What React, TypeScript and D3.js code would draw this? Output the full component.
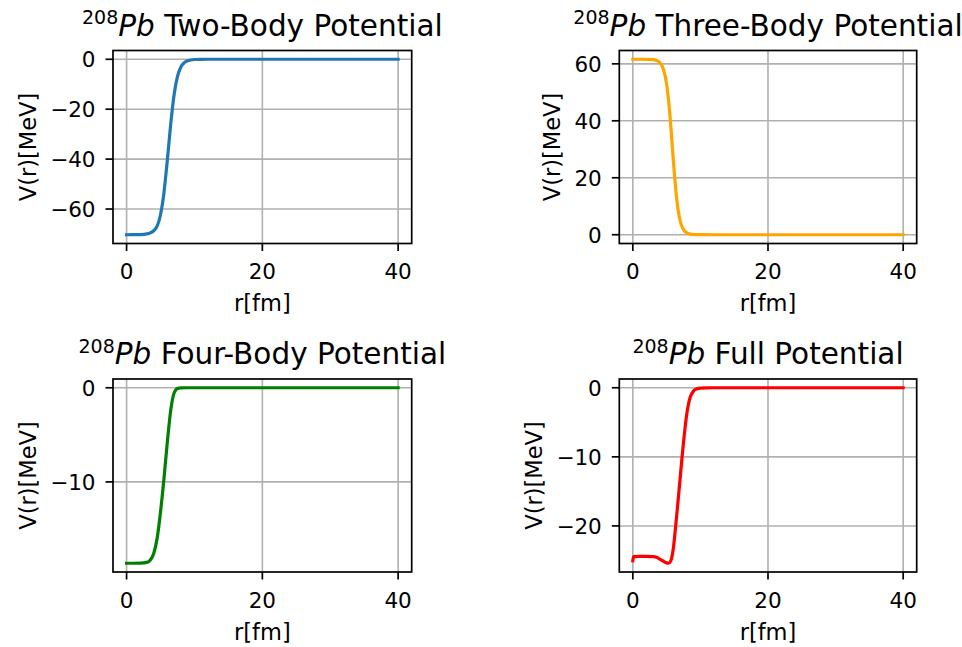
import React from "react";
import * as d3 from "d3";

// ---- data ----
const rTwo = [0, 1, 2, 3, 3.5, 4, 4.5, 5, 5.5, 6, 6.5, 7, 7.5, 8, 8.5, 9, 10, 11, 12, 15, 20, 30, 40];
const vTwo = [-70.3, -70.29, -70.23, -69.96, -69.54, -68.7, -66.9, -62.3, -53.6, -40.5, -26.0, -14.2, -6.9, -3.1, -1.35, -0.58, -0.1, -0.02, 0, 0, 0, 0, 0];

const rThree = [0, 1, 2, 3, 3.5, 4, 4.5, 5, 5.5, 6, 6.5, 7, 7.5, 8, 8.5, 9, 10, 12, 20, 30, 40];
const vThree = [61.6, 61.6, 61.58, 61.46, 61.19, 60.42, 58.3, 52.92, 41.76, 25.92, 12.35, 4.91, 1.79, 0.63, 0.22, 0.08, 0.01, 0, 0, 0, 0];

const rFour = [0, 1, 2, 3, 3.5, 4, 4.5, 5, 5.5, 6, 6.5, 7, 7.5, 8, 9, 20, 30, 40];
const vFour = [-18.64, -18.64, -18.63, -18.55, -18.3, -17.6, -16.0, -13.2, -9.7, -5.8, -2.4, -0.55, -0.08, -0.01, 0, 0, 0, 0];

const rFull = [0, 0.1, 1, 2, 3, 3.5, 4, 4.5, 5, 5.3, 5.6, 6, 6.25, 6.5, 6.75, 7, 7.25, 7.5, 7.75, 8, 8.25, 8.5, 9, 9.5, 10, 11, 12, 20, 30, 40];
const vFull = [-25.05, -24.45, -24.4, -24.4, -24.45, -24.55, -24.8, -25.1, -25.35, -25.4, -25.1, -23.2, -20.9, -18.4, -15.8, -13.1, -10.4, -7.9, -5.6, -3.7, -2.3, -1.35, -0.45, -0.15, -0.05, -0.01, 0, 0, 0, 0];

const xTicks = [0, 20, 40];
const yTicksTwo = [0, -20, -40, -60];
const yTicksThree = [0, 20, 40, 60];
const yTicksFour = [0, -10];
const yTicksFull = [0, -10, -20];

const titles = ["Two-Body Potential", "Three-Body Potential", "Four-Body Potential", "Full Potential"];
const colors = ["#1f77b4", "#ffa500", "#008000", "#ff0000"];

const FONT = "DejaVu Sans";

type Panel = {
  r: number[];
  v: number[];
  yTicks: number[];
  title: string;
  color: string;
  left: number;
  right: number;
  top: number;
  bottom: number;
  ylabelX: number;
};

const panels: Panel[] = [
  { r: rTwo, v: vTwo, yTicks: yTicksTwo, title: titles[0], color: colors[0], left: 113, right: 411.7, top: 50.5, bottom: 243.5, ylabelX: 36 },
  { r: rThree, v: vThree, yTicks: yTicksThree, title: titles[1], color: colors[1], left: 619.3, right: 916.7, top: 50.5, bottom: 243.5, ylabelX: 560 },
  { r: rFour, v: vFour, yTicks: yTicksFour, title: titles[2], color: colors[2], left: 113, right: 411.7, top: 379, bottom: 572, ylabelX: 36 },
  { r: rFull, v: vFull, yTicks: yTicksFull, title: titles[3], color: colors[3], left: 619.3, right: 916.7, top: 379, bottom: 572, ylabelX: 542 },
];

const fmt = (t: number) => (t < 0 ? "\u2212" + Math.abs(t) : String(t));

function PanelView({ p }: { p: Panel }) {
  const xmin = d3.min(p.r)!, xmax = d3.max(p.r)!;
  const ymin = d3.min(p.v)!, ymax = d3.max(p.v)!;
  const xpad = (xmax - xmin) * 0.05, ypad = (ymax - ymin) * 0.05;
  const x = d3.scaleLinear().domain([xmin - xpad, xmax + xpad]).range([p.left, p.right]);
  const y = d3.scaleLinear().domain([ymin - ypad, ymax + ypad]).range([p.bottom, p.top]);
  const pts: [number, number][] = p.r.map((r, i) => [r, p.v[i]]);
  const line = d3
    .line<[number, number]>()
    .x((d) => x(d[0]))
    .y((d) => y(d[1]))
    .curve(d3.curveMonotoneX);
  const cx = (p.left + p.right) / 2;
  const cy = (p.top + p.bottom) / 2;
  const grid = "#b0b0b0";
  return (
    <g>
      {xTicks.map((t) => (
        <line key={"gx" + t} x1={x(t)} x2={x(t)} y1={p.top} y2={p.bottom} stroke={grid} strokeWidth={1.6} />
      ))}
      {p.yTicks.map((t) => (
        <line key={"gy" + t} x1={p.left} x2={p.right} y1={y(t)} y2={y(t)} stroke={grid} strokeWidth={1.6} />
      ))}
      <path d={line(pts) || ""} fill="none" stroke={p.color} strokeWidth={3.2} strokeLinejoin="round" strokeLinecap="square" />
      <rect x={p.left} y={p.top} width={p.right - p.left} height={p.bottom - p.top} fill="none" stroke="#000" strokeWidth={1.7} />
      {xTicks.map((t) => (
        <g key={"xt" + t}>
          <line x1={x(t)} x2={x(t)} y1={p.bottom} y2={p.bottom + 7.5} stroke="#000" strokeWidth={1.7} />
          <text x={x(t)} y={p.bottom + 35.8} textAnchor="middle" fontFamily={FONT} fontSize={21.5} fill="#000">
            {fmt(t)}
          </text>
        </g>
      ))}
      {p.yTicks.map((t) => (
        <g key={"yt" + t}>
          <line x1={p.left - 7.5} x2={p.left} y1={y(t)} y2={y(t)} stroke="#000" strokeWidth={1.7} />
          <text x={p.left - 17.5} y={y(t) + 7.8} textAnchor="end" fontFamily={FONT} fontSize={21.5} fill="#000">
            {fmt(t)}
          </text>
        </g>
      ))}
      <text x={cx} y={p.bottom + 67.5} textAnchor="middle" fontFamily={FONT} fontSize={22.5} fill="#000">
        r[fm]
      </text>
      <text transform={`translate(${p.ylabelX},${cy}) rotate(-90)`} textAnchor="middle" fontFamily={FONT} fontSize={22.5} fill="#000">
        V(r)[MeV]
      </text>
      <text x={cx} y={p.top - 14.6} textAnchor="middle" fontFamily={FONT} fontSize={29.5} fill="#000">
        <tspan fontSize={19} dy={-11.5}>208</tspan>
        <tspan dy={11.5} fontStyle="italic">Pb</tspan>
        <tspan>{" " + p.title}</tspan>
      </text>
    </g>
  );
}

export default function App() {
  return (
    <svg
      width={962}
      height={647}
      style={{ position: "absolute", left: 0, top: 0, background: "#fff" }}
      xmlns="http://www.w3.org/2000/svg"
    >
      <rect width={962} height={647} fill="#fff" />
      {panels.map((p, i) => (
        <PanelView key={i} p={p} />
      ))}
    </svg>
  );
}
